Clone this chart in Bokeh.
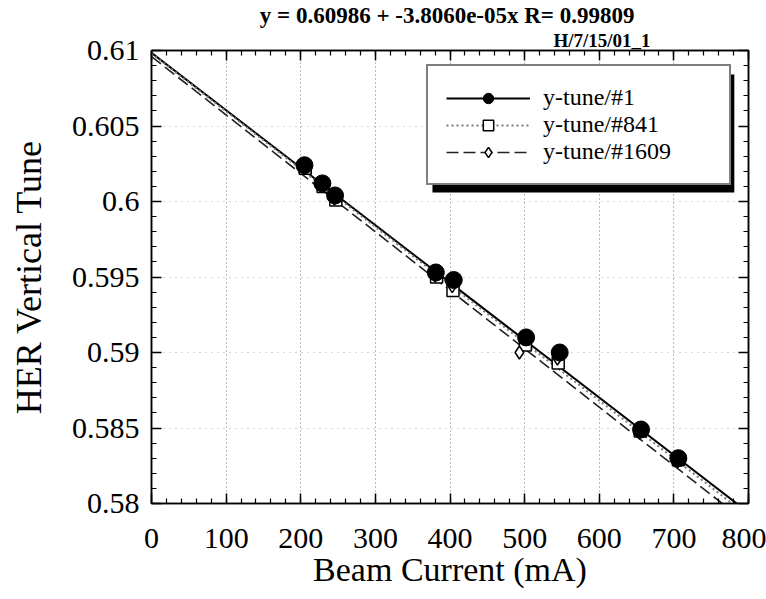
from bokeh.plotting import figure
from bokeh.models import (FixedTicker, LinearAxis, Legend, LegendItem, Title,
                          BoxAnnotation, Range1d, CustomJSTickFormatter)
from bokeh.embed import file_html
from bokeh.resources import INLINE

# ---------------- data ----------------
x_ticks = [0, 100, 200, 300, 400, 500, 600, 700, 800]
y_ticks = [0.58, 0.585, 0.59, 0.595, 0.6, 0.605, 0.61]
y_tick_labels = ["0.58", "0.585", "0.59", "0.595", "0.6", "0.605", "0.61"]

# y-tune/#1 (filled circles)
cur_1 = [205, 229, 246, 381, 405, 502, 547, 656, 706]
tune_1 = [0.6024, 0.6012, 0.6004, 0.5953, 0.5948, 0.5910, 0.5900, 0.5849, 0.5830]
# y-tune/#841 (open squares)
cur_841 = [206, 230, 247, 382, 404, 501, 545, 655, 706]
tune_841 = [0.6022, 0.6010, 0.6001, 0.5950, 0.5941, 0.5905, 0.5893, 0.5848, 0.5829]
# y-tune/#1609 (open diamonds)
cur_1609 = [204, 228, 245, 380, 403, 493, 544, 654, 705]
tune_1609 = [0.6023, 0.6011, 0.6002, 0.5951, 0.5944, 0.5900, 0.5896, 0.5847, 0.5828]

# linear fit end points (x = 0 and x = 800)
fit_x = [0, 800]
fit_1 = [0.60985, 0.57940]
fit_841 = [0.60980, 0.57916]
fit_1609 = [0.60960, 0.57864]

title_text = "y = 0.60986 + -3.8060e-05x  R= 0.99809"
sub_text = "H/7/15/01_1"

SERIF = "'Liberation Serif', 'Times New Roman', serif"

p = figure(width=766, height=599, x_range=Range1d(0, 800), y_range=Range1d(0.58, 0.61),
           output_backend="svg", toolbar_location=None,
           min_border_left=151, min_border_right=18, min_border_top=50, min_border_bottom=96,
           background_fill_color="white", border_fill_color="white")
p.title.visible = False
p.outline_line_color = "black"
p.outline_line_width = 1.5

x_minor = [i * 20 for i in range(41)]
y_minor = [0.58 + i * 0.001 for i in range(31)]

xt = FixedTicker(ticks=x_ticks, minor_ticks=x_minor)
yt = FixedTicker(ticks=y_ticks, minor_ticks=y_minor)

bottom_ax = p.below[0]
left_ax = p.left[0]
bottom_ax.ticker = xt
left_ax.ticker = yt
left_ax.major_label_overrides = {v: s for v, s in zip(y_ticks, y_tick_labels)}

top_ax = LinearAxis(ticker=xt)
right_ax = LinearAxis(ticker=yt)
p.add_layout(top_ax, "above")
p.add_layout(right_ax, "right")

for ax in (bottom_ax, left_ax, top_ax, right_ax):
    ax.axis_line_color = "black"
    ax.axis_line_width = 1.5
    ax.major_tick_in = 10
    ax.major_tick_out = 0
    ax.minor_tick_in = 5
    ax.minor_tick_out = 0
    ax.major_tick_line_color = "black"
    ax.major_tick_line_width = 1.5
    ax.minor_tick_line_color = "black"
    ax.minor_tick_line_width = 1.2
    ax.major_label_text_font = SERIF
    ax.major_label_text_font_size = "30px"
    ax.major_label_text_color = "black"
    ax.axis_label_text_font = SERIF
    ax.axis_label_text_font_size = "34px"
    ax.axis_label_text_font_style = "normal"
    ax.axis_label_text_color = "black"

for ax in (top_ax, right_ax):
    ax.formatter = CustomJSTickFormatter(code="return ''")
    ax.major_label_standoff = 0
    ax.major_label_text_font_size = "0px"

bottom_ax.axis_label = "Beam Current (mA)"
left_ax.axis_label = "HER Vertical Tune"
left_ax.axis_label_text_font_size = "36px"
bottom_ax.major_label_standoff = 25
bottom_ax.axis_label_standoff = 0
left_ax.major_label_standoff = 12
left_ax.axis_label_standoff = 20

p.xgrid.ticker = xt
p.ygrid.ticker = yt
p.xgrid.grid_line_color = "#7a7a7a"
p.xgrid.grid_line_dash = "1 3"
p.xgrid.grid_line_width = 1
p.ygrid.grid_line_color = "#b0b0b0"
p.ygrid.grid_line_dash = "1 5"
p.ygrid.grid_line_width = 1

# fit lines
l1 = p.line(fit_x, fit_1, line_color="black", line_width=2)
l841 = p.line(fit_x, fit_841, line_color="#7a7a7a", line_width=2, line_dash="2 3")
l1609 = p.line(fit_x, fit_1609, line_color="#222222", line_width=1.6, line_dash="12 5")

# markers
s841 = p.scatter(cur_841, tune_841, marker="square", size=12, fill_color="white",
                 line_color="black", line_width=1.5)
s1609 = p.scatter(cur_1609, tune_1609, marker="diamond", size=13, fill_color="white",
                  line_color="black", line_width=1.5)
s1 = p.scatter(cur_1, tune_1, marker="circle", size=17, fill_color="black",
               line_color="black")

# legend shadow
shadow = BoxAnnotation(left=376.5, right=781.0, top=0.60841, bottom=0.60060,
                       fill_color="black", fill_alpha=1.0, line_color=None)
p.add_layout(shadow)

legend = Legend(items=[
    LegendItem(label="y-tune/#1", renderers=[l1, s1]),
    LegendItem(label="y-tune/#841", renderers=[l841, s841]),
    LegendItem(label="y-tune/#1609", renderers=[l1609, s1609]),
], location=(275, 318), margin=0, padding=18, spacing=0,
    label_height=26, glyph_height=26, glyph_width=84, label_standoff=13, label_width=168,
    border_line_color="black", border_line_width=2.5,
    background_fill_color="white", background_fill_alpha=1.0,
    label_text_font=SERIF, label_text_font_size="24px", label_text_color="black")
p.add_layout(legend)

p.add_layout(Title(text=sub_text, align="left", offset=402, standoff=0,
                   text_font=SERIF, text_font_style="bold", text_font_size="19px",
                   text_color="black"), "above")
p.add_layout(Title(text=title_text, align="center", offset=12, standoff=0,
                   text_font=SERIF, text_font_style="bold", text_font_size="23px",
                   text_color="black"), "above")

open("out.html", "w").write(file_html(p, INLINE))
